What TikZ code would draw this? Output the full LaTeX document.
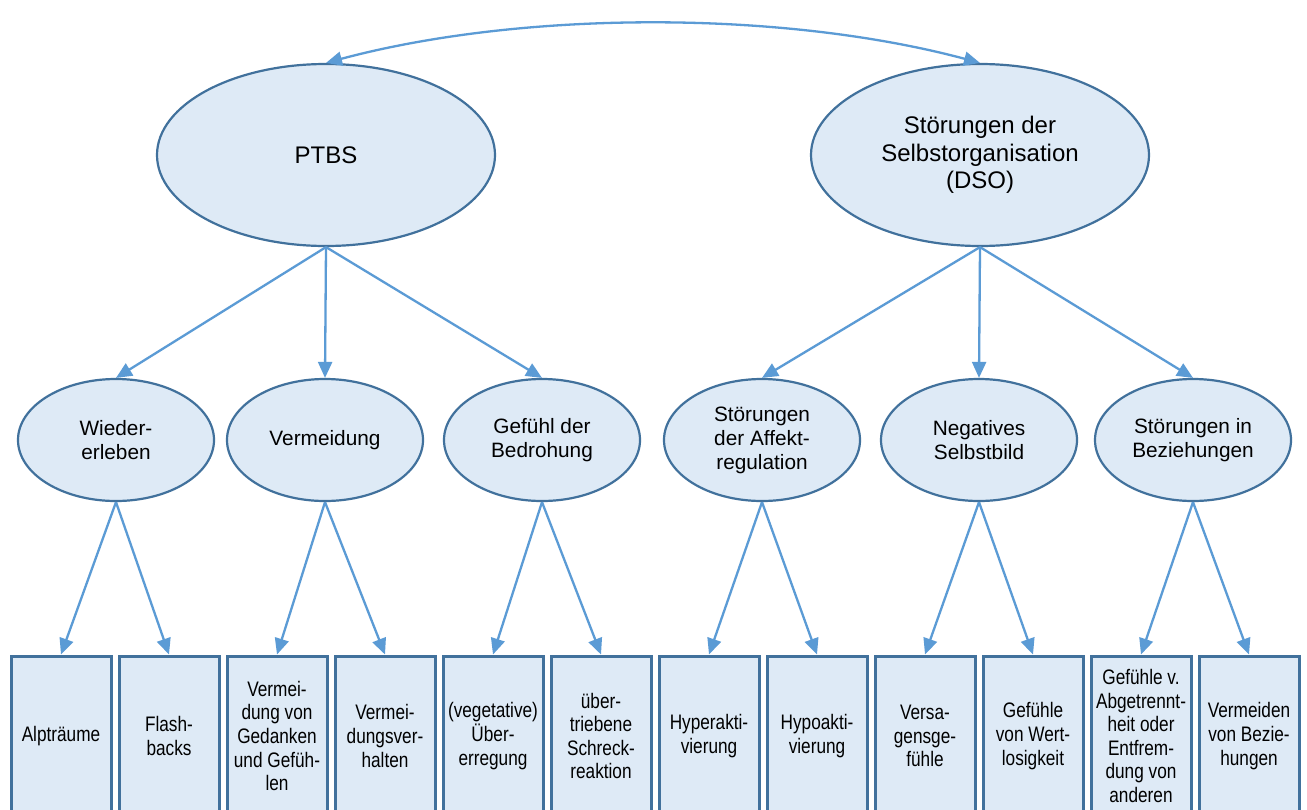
\documentclass[tikz,border=0pt]{standalone}
\usepackage{fontspec}
\setmainfont{Liberation Sans}
\newfontfamily\narrowfont{Liberation Sans}[FakeStretch=0.82]
\usetikzlibrary{shapes.geometric,arrows.meta}
\definecolor{fillc}{HTML}{DEEAF6}
\definecolor{edgec}{HTML}{41719C}
\definecolor{arrc}{HTML}{5B9BD5}
\begin{document}
\begin{tikzpicture}[x=1pt,y=-1pt,
 big/.style={ellipse,draw=edgec,fill=fillc,line width=2.2pt,minimum width=338pt,minimum height=182pt,inner sep=0pt,align=center,font=\fontsize{24}{27.5}\selectfont},
 mid/.style={ellipse,draw=edgec,fill=fillc,line width=2.2pt,minimum width=196pt,minimum height=122pt,inner sep=0pt,align=center,font=\fontsize{20.8}{24}\selectfont},
 leaf/.style={rectangle,draw=edgec,fill=fillc,line width=3pt,minimum width=100pt,minimum height=160pt,inner sep=0pt,align=center,font=\narrowfont\fontsize{21}{23.6}\selectfont},
 conn/.style={draw=arrc,line width=2.3pt,-{Triangle[length=16pt,width=14pt]}},
 tipstyle/.style={draw=arrc,line width=2.3pt,{Triangle[length=16pt,width=14pt]}-{Triangle[length=16pt,width=14pt]}}]
\useasboundingbox (0,0) rectangle (1307,809);
\clip (0,0) rectangle (1307,809);
\fill[white] (0,0) rectangle (1307,809);

\node[big] (ptbs) at (326,155) {PTBS};
\node[big] (dso) at (980,155) {Störungen der\\Selbstorganisation\\(DSO)};

\node[mid] (m1) at (116,440) {Wieder-\\erleben};
\node[mid] (m2) at (325,440) {Vermeidung};
\node[mid] (m3) at (542,440) {Gefühl der\\Bedrohung};
\node[mid] (m4) at (762,440) {Störungen\\der Affekt-\\regulation};
\node[mid] (m5) at (979,440) {Negatives\\Selbstbild};
\node[mid] (m6) at (1193,440) {Störungen in\\Beziehungen};

\node[leaf] (l1) at (61,736) {Alpträume};
\node[leaf] (l2) at (169,736) {Flash-\\backs};
\node[leaf] (l3) at (277,736) {Vermei-\\dung von\\Gedanken\\und Gefüh-\\len};
\node[leaf] (l4) at (385,736) {Vermei-\\dungsver-\\halten};
\node[leaf] (l5) at (493,736) {(vegetative)\\Über-\\erregung};
\node[leaf] (l6) at (601,736) {über-\\triebene\\Schreck-\\reaktion};
\node[leaf] (l7) at (709,736) {Hyperakti-\\vierung};
\node[leaf] (l8) at (817,736) {Hypoakti-\\vierung};
\node[leaf] (l9) at (925,736) {Versa-\\gensge-\\fühle};
\node[leaf] (l10) at (1033,736) {Gefühle\\von Wert-\\losigkeit};
\node[leaf] (l11) at (1141,736) {Gefühle v.\\Abgetrennt-\\heit oder\\Entfrem-\\dung von\\anderen};
\node[leaf] (l12) at (1249,736) {Vermeiden\\von Bezie-\\hungen};

\draw[tipstyle] (ptbs.north) to[bend left=15,looseness=0.8] (dso.north);

\foreach \m in {m1,m2,m3}{\draw[conn] (ptbs.south) -- (\m.north);}
\foreach \m in {m4,m5,m6}{\draw[conn] (dso.south) -- (\m.north);}

\draw[conn] (m1.south) -- (l1.north);
\draw[conn] (m1.south) -- (l2.north);
\draw[conn] (m2.south) -- (l3.north);
\draw[conn] (m2.south) -- (l4.north);
\draw[conn] (m3.south) -- (l5.north);
\draw[conn] (m3.south) -- (l6.north);
\draw[conn] (m4.south) -- (l7.north);
\draw[conn] (m4.south) -- (l8.north);
\draw[conn] (m5.south) -- (l9.north);
\draw[conn] (m5.south) -- (l10.north);
\draw[conn] (m6.south) -- (l11.north);
\draw[conn] (m6.south) -- (l12.north);
\end{tikzpicture}
\end{document}
